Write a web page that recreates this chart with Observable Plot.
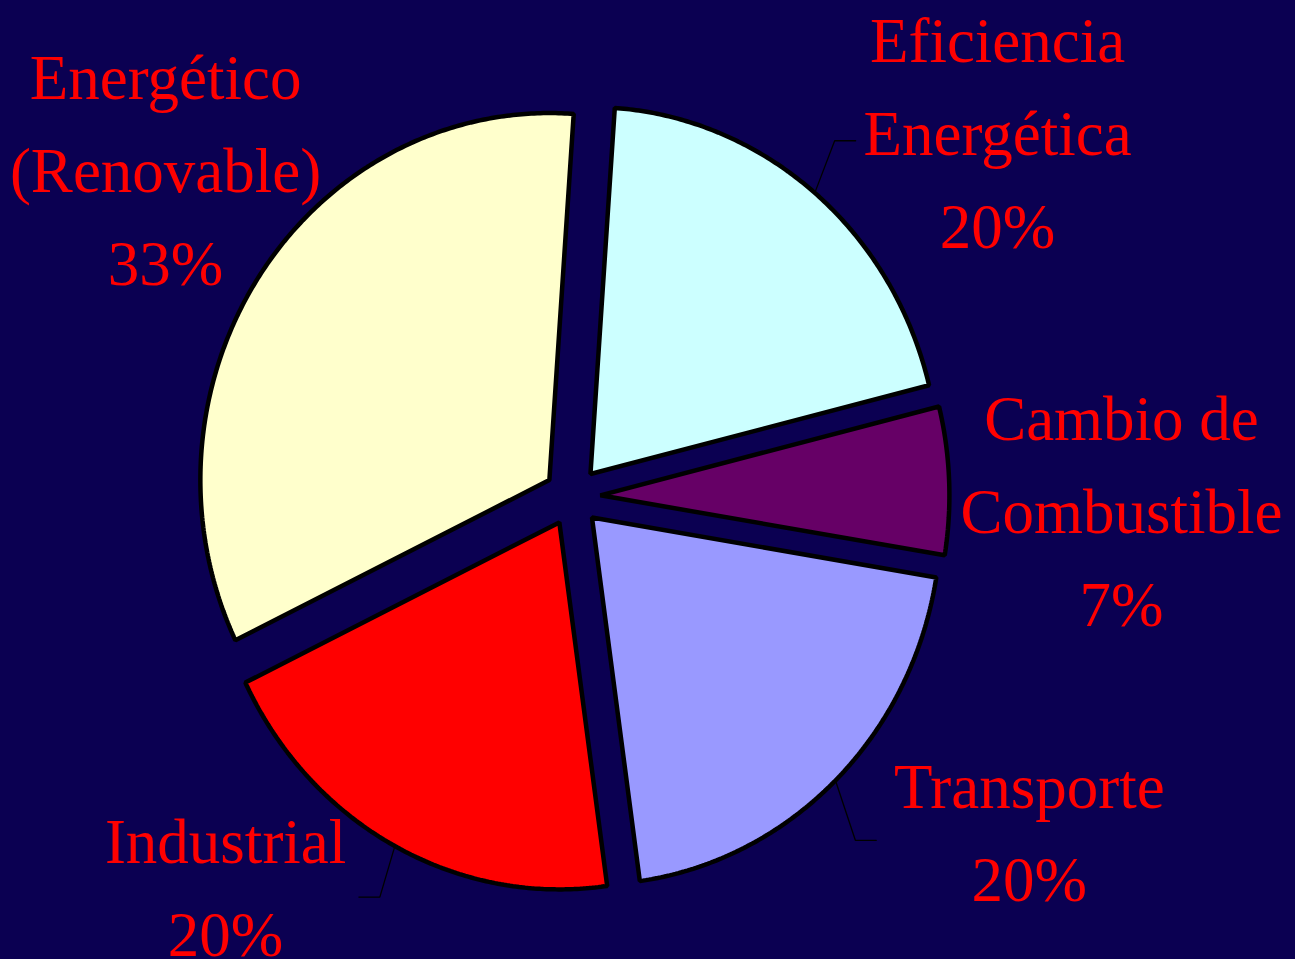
<!DOCTYPE html>
<html>
<head>
<meta charset="utf-8">
<script src="https://cdn.jsdelivr.net/npm/d3@7"></script>
<script src="https://cdn.jsdelivr.net/npm/@observablehq/plot@0.6"></script>
<style>
  html, body { margin: 0; padding: 0; background: #0b0052; overflow: hidden; }
  #chart svg { display: block; }
</style>
</head>
<body>
<div id="chart"></div>
<script>
// ---- data ----
const categories = ["Eficiencia Energética", "Cambio de Combustible", "Transporte", "Industrial", "Energético (Renovable)"];
const shares = [20, 6.5, 20.2, 20, 33.3];
const labelNames = [["Eficiencia", "Energética"], ["Cambio de", "Combustible"], ["Transporte"], ["Industrial"], ["Energético", "(Renovable)"]];
const sliceColors = ["#CCFFFF", "#660066", "#9999FF", "#FF0000", "#FFFFCC"];

// ---- layout (pie units: radius 1, centre 0,0) ----
const W = 1295, H = 959;
const cx = 572, cy = 496, rx = 349, ry = 367;
const startAngle = 4;        // degrees, clockwise from 12 o'clock
const explode = 0.08;
const labelPos = [[1.218, 1.011], [1.573, -0.019], [1.309, -0.894], [-0.994, -1.044], [-1.166, 0.910]];
const leaderElbow = [[0.057, 0.142], null, [0.057, -0.163], [-0.043, -0.139], null];

const rad = d => d * Math.PI / 180;
const total = d3.sum(shares);
let acc = startAngle;
const slices = shares.map((v, i) => {
  const a0 = acc, a1 = acc + v / total * 360;
  acc = a1;
  const mid = (a0 + a1) / 2;
  const ox = explode * Math.sin(rad(mid)), oy = explode * Math.cos(rad(mid));
  const pts = [{x: ox, y: oy}];
  const n = Math.max(8, Math.ceil((a1 - a0) * 2));
  for (let k = 0; k <= n; k++) {
    const a = a0 + (a1 - a0) * k / n;
    pts.push({x: ox + Math.sin(rad(a)), y: oy + Math.cos(rad(a))});
  }
  return {name: categories[i], color: sliceColors[i], pts, mid, ox, oy};
});

const labels = slices.map((s, i) => ({
  x: labelPos[i][0], y: labelPos[i][1],
  text: labelNames[i].join("\n") + "\n" + Math.round(shares[i]) + "%"
}));

const leaders = [];
slices.forEach((s, i) => {
  const e = leaderElbow[i];
  if (!e) return;
  const p0 = {x: s.ox + Math.sin(rad(s.mid)), y: s.oy + Math.cos(rad(s.mid))};
  const p1 = {x: p0.x + e[0], y: p0.y + e[1]};
  const dir = labelPos[i][0] > p1.x ? 1 : -1;
  const p2 = {x: p1.x + dir * 0.06, y: p1.y};
  leaders.push([p0, p1, p2]);
});

const chart = Plot.plot({
  width: W, height: H,
  margin: 0,
  x: {domain: [(0 - cx) / rx, (W - cx) / rx], range: [0, W], axis: null},
  y: {domain: [(cy - H) / ry, cy / ry], range: [H, 0], axis: null},
  style: {background: "#0b0052", fontFamily: "'Liberation Serif', serif"},
  marks: [
    ...slices.map(s => Plot.line(s.pts, {
      x: "x", y: "y", curve: "linear-closed",
      fill: s.color, stroke: "black", strokeWidth: 4.5, strokeLinejoin: "miter"
    })),
    ...leaders.map(l => Plot.line(l, {x: "x", y: "y", stroke: "black", strokeWidth: 1.3, strokeLinejoin: "miter"})),
    Plot.text(labels, {
      x: "x", y: "y", text: "text",
      fill: "#FF0000", fontSize: 63, lineHeight: 1.476,
      lineAnchor: "middle", textAnchor: "middle"
    })
  ]
});
document.getElementById("chart").appendChild(chart);
</script>
</body>
</html>
